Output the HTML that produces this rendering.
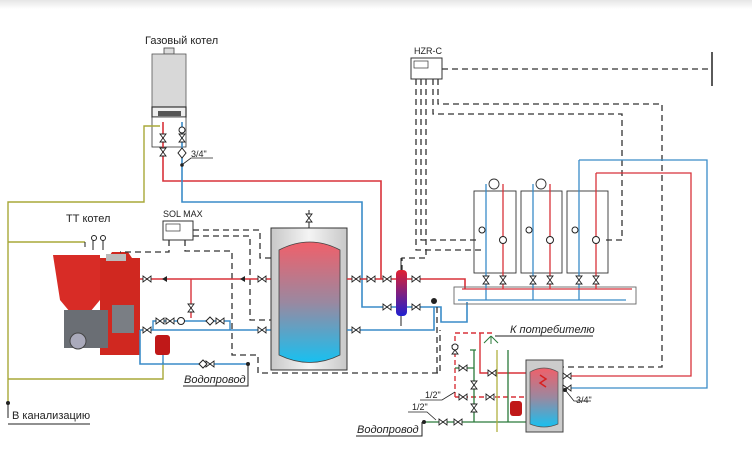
<!DOCTYPE html>
<html><head><meta charset="utf-8"><style>
html,body{margin:0;padding:0;background:#fff;width:752px;height:458px;overflow:hidden}
svg text{font-family:"Liberation Sans Narrow","Liberation Sans",sans-serif;fill:#222}
</style></head><body>
<svg width="752" height="458" viewBox="0 0 752 458" xmlns="http://www.w3.org/2000/svg">
<defs>
<linearGradient id="top" x1="0" y1="0" x2="0" y2="1"><stop offset="0" stop-color="#e6e6e6"/><stop offset="1" stop-color="#fff"/></linearGradient>
<linearGradient id="tank" x1="0" y1="0" x2="0" y2="1"><stop offset="0" stop-color="#f0606a"/><stop offset="0.5" stop-color="#9a88a0"/><stop offset="1" stop-color="#18c0f0"/></linearGradient>
<linearGradient id="hyd" x1="0" y1="0" x2="0" y2="1"><stop offset="0" stop-color="#e02030"/><stop offset="1" stop-color="#2020d0"/></linearGradient>
<linearGradient id="shell" x1="0" y1="0" x2="1" y2="0"><stop offset="0" stop-color="#c8c8c8"/><stop offset="0.5" stop-color="#f4f4f4"/><stop offset="1" stop-color="#c8c8c8"/></linearGradient>
<g id="vh"><path d="M-4,-3 L4,3 L4,-3 L-4,3 Z" fill="#fff" stroke="#222" stroke-width="0.9"/></g>
<g id="vv"><path d="M-3,-4 L3,4 L-3,4 L3,-4 Z" fill="#fff" stroke="#222" stroke-width="0.9"/></g>
</defs>
<rect x="0" y="0" width="752" height="9" fill="url(#top)"/>

<!-- gas boiler -->
<text x="145" y="44" font-size="11">Газовый котел</text>
<rect x="164" y="48" width="10" height="6" fill="#ddd" stroke="#444" stroke-width="0.8"/>
<rect x="152" y="54" width="34" height="53" fill="#d8d8d8" stroke="#555" stroke-width="0.8"/>
<rect x="152" y="107" width="34" height="10" fill="#eee" stroke="#333" stroke-width="1.2"/>
<rect x="158" y="111" width="23" height="5" fill="#555"/>
<rect x="152" y="117" width="34" height="30" fill="#fff" stroke="#333" stroke-width="0.8"/>
<path d="M163,122 V181 H381 V279" fill="none" stroke="#d8323a" stroke-width="1.6"/>
<path d="M182,122 V202 H362 V307 H398" fill="none" stroke="#3a8cc8" stroke-width="1.6"/>
<circle cx="182" cy="130" r="3" fill="#fff" stroke="#222"/>
<use href="#vv" x="163" y="138"/><use href="#vv" x="182" y="138"/><use href="#vv" x="163" y="152"/>
<path d="M182,148 l4,5 l-4,5 l-4,-5z" fill="#fff" stroke="#222"/>
<circle cx="182" cy="165" r="1.8" fill="#222"/>
<path d="M183,164 l8,-6 h22" fill="none" stroke="#222" stroke-width="0.8"/>
<text x="191" y="157" font-size="9">3/4"</text>
<!-- yellow drain -->
<path d="M160,126 H144 V202 H8 V403 M8,242 H85 M8,379 H163 V362" fill="none" stroke="#a8a838" stroke-width="1.4"/>
<path d="M8,403 V418" stroke="#222" stroke-width="1"/><circle cx="8" cy="403" r="2" fill="#222"/>
<text x="12" y="419" font-size="11">В канализацию</text>
<path d="M8,424 H90" stroke="#222" stroke-width="1"/>

<!-- TT boiler -->
<text x="66" y="222" font-size="11">ТТ котел</text>
<path d="M53,255 H100 V300 L90,312 H70 L60,300 Z" fill="#d82c26"/>
<path d="M100,258 H108 L112,252 H128 L132,258 H140 V355 H100 Z" fill="#d02820"/>
<rect x="64" y="310" width="44" height="38" fill="#6a6e74"/>
<circle cx="78" cy="341" r="8" fill="#aab" stroke="#444"/>
<rect x="112" y="305" width="22" height="28" fill="#7a7e84"/>
<rect x="106" y="254" width="20" height="7" fill="#bbb"/>
<path d="M85,242 V247 M93,240 V250 M103,240 V250" stroke="#222" stroke-width="1"/>
<circle cx="94" cy="238" r="2.5" fill="none" stroke="#222"/><circle cx="103" cy="238" r="2.5" fill="none" stroke="#222"/>

<!-- SOL MAX -->
<text x="163" y="217" font-size="9">SOL MAX</text>
<rect x="163" y="221" width="30" height="19" fill="#fff" stroke="#333"/>
<rect x="166" y="224" width="14" height="7" fill="#fff" stroke="#333" stroke-width="0.7"/>
<g stroke="#333" stroke-width="1.3" stroke-dasharray="6,4" fill="none">
<path d="M193,230 H260 V258 H279"/>
<path d="M193,236 H250 V320 H279"/>
<path d="M169,240 V252 H120"/>
<path d="M185,240 V251 H232 V355 H258 V373 H440 V330"/>
</g>

<!-- main pipes boiler-tank -->
<path d="M140,279 H271" stroke="#d8323a" stroke-width="1.6"/>
<path d="M191,279 V318" stroke="#d8323a" stroke-width="1.4"/>
<path d="M140,330 H271" stroke="#3a8cc8" stroke-width="1.6"/>
<path d="M153,330 V321 H230 V330" fill="none" stroke="#3a8cc8" stroke-width="1.4"/>
<path d="M140,330 V364 H248" fill="none" stroke="#3a8cc8" stroke-width="1.6"/>
<path d="M163,355 V364" stroke="#3a8cc8" stroke-width="1.4"/>
<use href="#vh" x="147" y="279"/><use href="#vh" x="262" y="279"/><use href="#vh" x="147" y="330"/><use href="#vh" x="262" y="330"/>
<use href="#vh" x="160" y="321"/><use href="#vh" x="170" y="321"/><use href="#vh" x="220" y="321"/><use href="#vh" x="210" y="364"/>
<circle cx="181" cy="321" r="3.5" fill="#fff" stroke="#222"/>
<path d="M206,321 l4,-4 l4,4 l-4,4z" fill="#fff" stroke="#222"/><path d="M199,364 l4,-4 l4,4 l-4,4z" fill="#fff" stroke="#222"/>
<use href="#vv" x="191" y="308"/>
<path d="M162,279 l5,-3 v6z M240,279 l5,-3 v6z" fill="#222"/>
<circle cx="248" cy="364" r="2" fill="#222"/>
<rect x="155" y="335" width="15" height="20" rx="3" fill="#c01818"/>
<text x="184" y="383" font-size="11" font-style="italic">Водопровод</text>
<path d="M183,386 H248 V364" fill="none" stroke="#222"/>

<!-- tank -->
<rect x="271" y="228" width="76" height="142" fill="url(#shell)" stroke="#333" stroke-width="1"/>
<path d="M279,250 Q310,234 340,250 V355 Q310,370 279,355 Z" fill="url(#tank)" stroke="#444" stroke-width="0.8"/>
<path d="M309,228 V210" stroke="#222"/><use href="#vv" x="309" y="218"/>
<path d="M347,279 H465 V289" fill="none" stroke="#d8323a" stroke-width="1.6"/>
<path d="M347,330 H434 V307" fill="none" stroke="#3a8cc8" stroke-width="1.6"/>
<path d="M407,307 H441 V322 H467 V302" fill="none" stroke="#3a8cc8" stroke-width="1.6"/>
<use href="#vh" x="356" y="279"/><use href="#vh" x="371" y="279"/><use href="#vh" x="387" y="279"/><use href="#vh" x="416" y="279"/>
<use href="#vh" x="356" y="330"/><use href="#vh" x="387" y="307"/><use href="#vh" x="416" y="307"/>
<rect x="396" y="270" width="11" height="46" rx="4" fill="url(#hyd)"/>
<path d="M401,270 V258 M401,316 V326" stroke="#222"/>
<circle cx="434" cy="301" r="3" fill="#222"/>

<!-- HZR-C -->
<text x="414" y="54" font-size="9">HZR-C</text>
<rect x="411" y="58" width="31" height="21" fill="#fff" stroke="#333"/>
<rect x="414" y="61" width="14" height="7" fill="#fff" stroke="#333" stroke-width="0.7"/>
<path d="M712,52 V86" stroke="#222" stroke-width="1.5"/>
<g stroke="#333" stroke-width="1.3" stroke-dasharray="6,4" fill="none">
<path d="M442,69 H712"/>
<path d="M438,79 V104 H662 V367 H563"/>
<path d="M433,79 V114 H622 V240 H604"/>
<path d="M416,79 V250 H482"/><path d="M421,79 V240 H476"/><path d="M426,79 V258 H402 V270"/>
<path d="M437,307 V373"/>
</g>
<!-- modules -->
<g fill="none" stroke="#333" stroke-width="0.9">
<rect x="474" y="191" width="42" height="82"/><rect x="521" y="191" width="41" height="82"/><rect x="567" y="191" width="41" height="82"/>
<circle cx="494" cy="184" r="5"/><circle cx="541" cy="184" r="5"/>
<rect x="454" y="287" width="182" height="17" stroke="#666"/>
</g>
<g stroke="#3a8cc8" stroke-width="1.3" fill="none">
<path d="M486,184 V300 M533,184 V300 M579,160 V300 M458,300 H626"/>
<path d="M579,160 H707 V388 H568"/>
</g>
<g stroke="#d8323a" stroke-width="1.3" fill="none">
<path d="M503,184 V289 M550,184 V289 M596,173 V289 M462,289 H632"/>
<path d="M596,173 H691 V376 H568"/>
</g>
<use href="#vv" x="486" y="280"/><use href="#vv" x="503" y="280"/><use href="#vv" x="533" y="280"/><use href="#vv" x="550" y="280"/><use href="#vv" x="579" y="280"/><use href="#vv" x="596" y="280"/>
<circle cx="503" cy="240" r="3.5" fill="#fff" stroke="#222"/><circle cx="550" cy="240" r="3.5" fill="#fff" stroke="#222"/><circle cx="596" cy="240" r="3.5" fill="#fff" stroke="#222"/>
<circle cx="482" cy="230" r="3" fill="#fff" stroke="#222"/><circle cx="529" cy="230" r="3" fill="#fff" stroke="#222"/><circle cx="575" cy="230" r="3" fill="#fff" stroke="#222"/>

<!-- lower DHW -->
<path d="M455,397 V333 H495" fill="none" stroke="#d8323a" stroke-width="1.4" stroke-dasharray="5,3"/>
<path d="M455,397 H526" stroke="#d8323a" stroke-width="1.4" stroke-dasharray="5,3"/>
<path d="M480,333 V373 H526" fill="none" stroke="#d8323a" stroke-width="1.4"/>
<g stroke="#2a7a3a" stroke-width="1.3" fill="none">
<path d="M424,422 H526 M474,422 V350 M508,422 V350 M455,368 H474 M470,350 H476"/>
</g>
<path d="M497,350 V432" stroke="#b0b040" stroke-width="1.3"/>
<use href="#vv" x="455" y="350"/><use href="#vv" x="474" y="385"/><use href="#vv" x="474" y="408"/><use href="#vh" x="463" y="368"/><use href="#vh" x="463" y="397"/><use href="#vh" x="490" y="397"/><use href="#vh" x="492" y="373"/><use href="#vh" x="458" y="422"/><use href="#vh" x="443" y="422"/>
<circle cx="455" cy="347" r="3" fill="#fff" stroke="#222"/>
<path d="M491,336 l-7,7 M491,336 l0,8 M491,336 l7,7" stroke="#2a7a3a"/>
<rect x="510" y="401" width="12" height="15" rx="3" fill="#c01818"/>
<rect x="526" y="360" width="37" height="72" fill="#ccc" stroke="#444"/>
<path d="M530,372 Q544,364 558,372 V424 Q544,430 530,424 Z" fill="url(#tank)" stroke="#555" stroke-width="0.7"/>
<path d="M540,375 l6,4 l-6,4 l6,4" fill="none" stroke="#d82020" stroke-width="1.5"/>
<use href="#vh" x="567" y="376"/><use href="#vh" x="567" y="388"/>
<circle cx="565" cy="390" r="2" fill="#222"/>
<path d="M566,391 l8,10 h17" fill="none" stroke="#222" stroke-width="0.8"/>
<text x="576" y="403" font-size="9">3/4"</text>
<text x="510" y="333" font-size="11" font-style="italic">К потребителю</text>
<path d="M495,336 H593" stroke="#222"/>
<text x="425" y="398" font-size="9">1/2"</text>
<path d="M420,400 H442 L455,392" fill="none" stroke="#222" stroke-width="0.8"/>
<text x="412" y="410" font-size="9">1/2"</text>
<path d="M408,412 H427 L436,420" fill="none" stroke="#222" stroke-width="0.8"/>
<circle cx="424" cy="422" r="2" fill="#222"/>
<text x="357" y="433" font-size="11" font-style="italic">Водопровод</text>
<path d="M356,436 H422 V422" fill="none" stroke="#222"/>
</svg>
</body></html>
